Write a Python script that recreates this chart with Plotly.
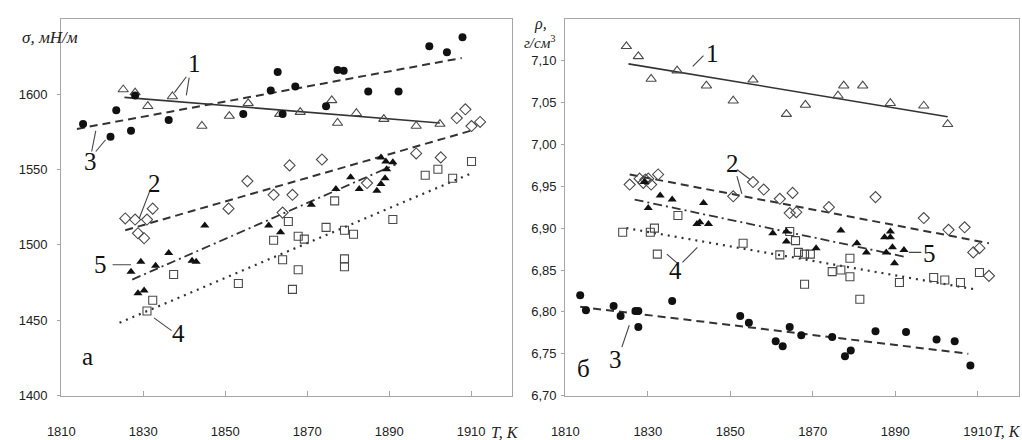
import plotly.graph_objects as go

# ---------------- Data: surface tension sigma (left panel, "а") ----------------
s1_T = [1825.1, 1828.0, 1831.1, 1837.1, 1844.3, 1851.0, 1855.6, 1863.3, 1868.3, 1876.0, 1877.4, 1882.0, 1888.7, 1896.6, 1902.4]
s1_v = [1603.0, 1601.0, 1591.9, 1598.4, 1578.8, 1585.4, 1593.8, 1586.7, 1588.0, 1595.8, 1580.8, 1587.3, 1583.4, 1578.8, 1580.1]
s2_T = [1825.6, 1828.0, 1830.9, 1832.3, 1828.7, 1830.2, 1850.8, 1855.4, 1861.8, 1866.4, 1864.0, 1865.7, 1873.6, 1884.6, 1896.6, 1902.6, 1906.5, 1908.6, 1910.1, 1912.2]
s2_v = [1517.5, 1516.8, 1516.8, 1524.0, 1507.7, 1504.4, 1524.0, 1542.3, 1533.2, 1533.2, 1521.4, 1552.7, 1556.6, 1541.0, 1560.6, 1558.0, 1584.1, 1589.9, 1578.8, 1581.5]
s3_T = [1815.3, 1822.0, 1823.4, 1827.0, 1828.0, 1836.2, 1854.4, 1861.1, 1862.8, 1864.0, 1867.1, 1874.6, 1877.4, 1878.9, 1884.9, 1892.3, 1899.8, 1904.1, 1907.9]
s3_v = [1580.1, 1571.7, 1589.3, 1575.6, 1599.1, 1582.8, 1586.7, 1602.3, 1614.7, 1586.7, 1605.0, 1591.9, 1616.0, 1615.4, 1601.7, 1601.7, 1631.7, 1627.8, 1637.6]
s4_T = [1830.9, 1832.3, 1837.4, 1853.2, 1861.8, 1865.4, 1864.0, 1867.8, 1869.3, 1867.8, 1866.4, 1876.7, 1874.6, 1879.1, 1881.3, 1879.1, 1879.1, 1890.9, 1898.8, 1901.9, 1905.5, 1910.1]
s4_v = [1456.1, 1463.3, 1480.3, 1474.4, 1503.1, 1515.5, 1490.1, 1505.7, 1503.8, 1483.5, 1470.5, 1529.2, 1511.6, 1509.7, 1507.0, 1490.7, 1485.5, 1516.8, 1546.2, 1550.1, 1544.2, 1555.3]
s5_T = [1827.0, 1829.4, 1828.7, 1830.2, 1833.0, 1836.2, 1841.9, 1842.9, 1845.0, 1860.6, 1863.5, 1871.0, 1877.0, 1880.6, 1882.7, 1887.0, 1888.0, 1889.0, 1889.4, 1888.0, 1889.2, 1890.9]
s5_v = [1482.2, 1488.8, 1467.9, 1469.8, 1486.2, 1494.6, 1489.4, 1488.8, 1512.9, 1512.9, 1508.3, 1526.6, 1537.1, 1544.9, 1537.1, 1535.8, 1540.3, 1544.2, 1550.1, 1558.0, 1555.3, 1554.7]

# trend lines (end points)
s1_fit_T, s1_fit_v = [1825.4, 1902.4], [1597.8, 1580.8]
s2_fit_T, s2_fit_v = [1825.6, 1910.6], [1509.7, 1576.2]
s3_fit_T, s3_fit_v = [1813.8, 1907.7], [1576.9, 1623.9]
s4_fit_T, s4_fit_v = [1824.2, 1910.1], [1448.3, 1547.5]
s5_fit_T, s5_fit_v = [1827.3, 1891.6], [1477.0, 1553.4]

# ---------------- Data: density rho (right panel, "б") ----------------
r1_T = [1824.8, 1827.7, 1830.8, 1837.1, 1844.2, 1850.7, 1855.5, 1863.6, 1868.2, 1876.1, 1877.5, 1882.1, 1888.8, 1896.9, 1902.7]
r1_v = [7.117, 7.105, 7.078, 7.088, 7.070, 7.052, 7.077, 7.036, 7.047, 7.058, 7.070, 7.070, 7.049, 7.046, 7.024]
r2_T = [1825.6, 1828.0, 1828.9, 1829.4, 1830.1, 1830.8, 1832.5, 1850.7, 1855.5, 1858.1, 1862.0, 1865.1, 1864.4, 1866.0, 1873.9, 1885.2, 1896.9, 1902.9, 1906.8, 1908.9, 1910.4, 1912.7]
r2_v = [6.952, 6.959, 6.954, 6.958, 6.959, 6.952, 6.964, 6.938, 6.955, 6.946, 6.935, 6.942, 6.918, 6.919, 6.925, 6.937, 6.912, 6.898, 6.901, 6.871, 6.876, 6.843]
r3_T = [1813.6, 1815.0, 1821.7, 1823.4, 1827.0, 1827.7, 1827.7, 1835.9, 1852.4, 1854.5, 1861.0, 1862.7, 1864.4, 1867.2, 1874.7, 1877.8, 1879.2, 1885.2, 1892.6, 1900.0, 1904.4, 1908.2]
r3_v = [6.820, 6.802, 6.807, 6.795, 6.801, 6.801, 6.782, 6.813, 6.795, 6.787, 6.765, 6.759, 6.782, 6.772, 6.770, 6.747, 6.754, 6.777, 6.776, 6.767, 6.765, 6.736]
r4_T = [1823.9, 1830.6, 1831.6, 1832.3, 1837.3, 1853.1, 1862.0, 1864.4, 1865.8, 1866.5, 1868.0, 1869.4, 1868.0, 1879.0, 1874.7, 1876.8, 1879.0, 1881.4, 1891.0, 1899.3, 1902.0, 1905.8, 1910.4]
r4_v = [6.895, 6.895, 6.900, 6.869, 6.915, 6.882, 6.868, 6.896, 6.885, 6.871, 6.869, 6.869, 6.833, 6.864, 6.848, 6.850, 6.842, 6.815, 6.835, 6.841, 6.838, 6.835, 6.847]
r5_T = [1829.2, 1830.1, 1833.0, 1835.9, 1841.9, 1842.6, 1843.5, 1844.7, 1860.3, 1863.6, 1863.6, 1870.8, 1876.8, 1880.7, 1883.0, 1887.4, 1888.8, 1888.8, 1887.8, 1889.3, 1889.8, 1892.1]
r5_v = [6.955, 6.924, 6.939, 6.934, 6.905, 6.907, 6.930, 6.905, 6.894, 6.896, 6.884, 6.876, 6.897, 6.882, 6.871, 6.889, 6.896, 6.889, 6.871, 6.877, 6.858, 6.874]

r1_fit_T, r1_fit_v = [1825.3, 1902.7], [7.096, 7.033]
r2_fit_T, r2_fit_v = [1825.6, 1912.7], [6.964, 6.882]
r3_fit_T, r3_fit_v = [1813.6, 1907.7], [6.806, 6.750]
r4_fit_T, r4_fit_v = [1824.8, 1909.2], [6.900, 6.827]
r5_fit_T, r5_fit_v = [1826.8, 1892.1], [6.934, 6.866]

x_ticks = [1810, 1830, 1850, 1870, 1890, 1910]
sigma_ticks = [1400, 1450, 1500, 1550, 1600]
rho_ticks = [6.70, 6.75, 6.80, 6.85, 6.90, 6.95, 7.00, 7.05, 7.10]
rho_ticktext = ["6,70", "6,75", "6,80", "6,85", "6,90", "6,95", "7,00", "7,05", "7,10"]

# ---------------- Styles ----------------
MK_GRAY = "#4a4a4a"
markers = {
    1: dict(symbol="triangle-up-open", size=9, color=MK_GRAY, line=dict(width=1.1, color=MK_GRAY)),
    2: dict(symbol="diamond-open", size=8.5, color=MK_GRAY, line=dict(width=1.1, color=MK_GRAY)),
    3: dict(symbol="circle", size=8, color="#111111"),
    4: dict(symbol="square-open", size=8, color=MK_GRAY, line=dict(width=1.1, color=MK_GRAY)),
    5: dict(symbol="triangle-up", size=8, color="#111111"),
}
lines = {
    1: dict(color="#333333", width=1.6, dash="solid"),
    2: dict(color="#333333", width=2, dash="8px,5px"),
    3: dict(color="#333333", width=2, dash="8px,5px"),
    4: dict(color="#333333", width=2.2, dash="2px,5px"),
    5: dict(color="#333333", width=1.8, dash="9px,4px,2px,4px"),
}

fig = go.Figure()

left_pts = {1: (s1_T, s1_v), 2: (s2_T, s2_v), 3: (s3_T, s3_v), 4: (s4_T, s4_v), 5: (s5_T, s5_v)}
left_fit = {1: (s1_fit_T, s1_fit_v), 2: (s2_fit_T, s2_fit_v), 3: (s3_fit_T, s3_fit_v), 4: (s4_fit_T, s4_fit_v), 5: (s5_fit_T, s5_fit_v)}
right_pts = {1: (r1_T, r1_v), 2: (r2_T, r2_v), 3: (r3_T, r3_v), 4: (r4_T, r4_v), 5: (r5_T, r5_v)}
right_fit = {1: (r1_fit_T, r1_fit_v), 2: (r2_fit_T, r2_fit_v), 3: (r3_fit_T, r3_fit_v), 4: (r4_fit_T, r4_fit_v), 5: (r5_fit_T, r5_fit_v)}

for pts, fits, xa, ya in [(left_pts, left_fit, "x", "y"), (right_pts, right_fit, "x2", "y2")]:
    for k in [4, 2, 5, 1, 3]:
        fx, fy = fits[k]
        fig.add_trace(go.Scatter(x=fx, y=fy, mode="lines", line=lines[k], xaxis=xa, yaxis=ya,
                                 showlegend=False, hoverinfo="skip"))
    for k in [4, 2, 5, 1, 3]:
        px_, py_ = pts[k]
        fig.add_trace(go.Scatter(x=px_, y=py_, mode="markers", marker=markers[k], xaxis=xa, yaxis=ya,
                                 showlegend=False, name=str(k)))

AX_COL = "#a6a6a6"
tick_font = dict(family="Liberation Sans, Arial, sans-serif", size=13, color="#222222")
common_x = dict(range=[1810, 1920], tickvals=x_ticks, showgrid=False, zeroline=False,
                showline=True, linecolor=AX_COL, linewidth=1.3, mirror=True,
                ticks="inside", ticklen=5, tickcolor=AX_COL, tickfont=tick_font,
                ticklabelstandoff=24)
common_y = dict(showgrid=False, zeroline=False, showline=True, linecolor=AX_COL, linewidth=1.3,
                mirror=True, ticks="outside", ticklen=3, tickcolor=AX_COL, tickfont=tick_font)

fig.update_layout(
    width=1022, height=440,
    margin=dict(l=0, r=0, t=0, b=0),
    paper_bgcolor="white", plot_bgcolor="white",
    xaxis=dict(domain=[48 / 1022, 505 / 1022], anchor="y", **common_x),
    yaxis=dict(domain=[1 - 403 / 440, 1 - 19 / 440], anchor="x", range=[1400, 1650],
               tickvals=sigma_ticks, ticklabelstandoff=7, **common_y),
    xaxis2=dict(domain=[559 / 1022, 1019 / 1022], anchor="y2", **common_x),
    yaxis2=dict(domain=[1 - 403 / 440, 1 - 19 / 440], anchor="x2", range=[6.70, 7.15],
                tickvals=rho_ticks, ticktext=rho_ticktext, ticklabelstandoff=2, **common_y),
)

SERIF = "Liberation Serif, Times New Roman, serif"
lbl_font = dict(family=SERIF, size=25, color="#111111")

def label(text, x, y, xref, yref):
    fig.add_annotation(text=text, x=x, y=y, xref=xref, yref=yref, showarrow=False,
                       font=lbl_font, xanchor="center", yanchor="middle")

def leader(x0, y0, x1, y1, xref, yref):
    fig.add_shape(type="line", x0=x0, y0=y0, x1=x1, y1=y1, xref=xref, yref=yref,
                  line=dict(color="#444444", width=1.1))

# left panel labels
label("1", 1842.6, 1620.2, "x", "y")
leader(1840.5, 1611.5, 1837.6, 1601.0, "x", "y")
leader(1841.2, 1610.9, 1840.5, 1599.1, "x", "y")
label("3", 1817.0, 1555.3, "x", "y")
leader(1817.4, 1561.9, 1818.4, 1575.6, "x", "y")
leader(1818.4, 1561.9, 1820.8, 1569.7, "x", "y")
label("2", 1832.8, 1541.0, "x", "y")
leader(1831.6, 1535.8, 1829.0, 1517.5, "x", "y")
label("5", 1819.6, 1486.8, "x", "y")
leader(1822.5, 1486.8, 1827.0, 1486.8, "x", "y")
label("4", 1838.6, 1441.1, "x", "y")
leader(1832.6, 1451.6, 1836.9, 1443.1, "x", "y")
label("а", 1816.5, 1426.1, "x", "y")

# right panel labels
label("1", 1845.7, 7.108, "x2", "y2")
leader(1840.9, 7.093, 1843.5, 7.106, "x2", "y2")
label("2", 1850.5, 6.977, "x2", "y2")
leader(1851.6, 6.970, 1854.8, 6.958, "x2", "y2")
leader(1851.6, 6.962, 1852.8, 6.941, "x2", "y2")
label("4", 1836.8, 6.849, "x2", "y2")
leader(1834.6, 6.869, 1837.4, 6.857, "x2", "y2")
leader(1838.4, 6.859, 1842.0, 6.877, "x2", "y2")
label("3", 1822.2, 6.743, "x2", "y2")
leader(1823.7, 6.758, 1825.5, 6.784, "x2", "y2")
label("б", 1814.5, 6.733, "x2", "y2")
label("5", 1898.2, 6.870, "x2", "y2")
leader(1893.3, 6.871, 1896.3, 6.871, "x2", "y2")

# axis titles (italic)
def title(text, x, y, size=17, yshift=0):
    fig.add_annotation(text=text, x=x, y=y, xref="paper", yref="paper", showarrow=False,
                       font=dict(family=SERIF, size=size, color="#222222"),
                       xanchor="center", yanchor="middle", borderpad=0, yshift=yshift)

title("<i>σ, мН/м</i>", 36 / 1022, 1 - 38 / 440)
title("<i>T, K</i>", 498 / 1022, 1 - 431 / 440, size=16, yshift=-9)
title("<i>ρ,</i>", 534 / 1022, 1 - 24 / 440, size=16)
title("<i>г/см</i><sup>3</sup>", 533 / 1022, 1 - 43 / 440, size=15)
title("<i>T, K</i>", 1007 / 1022, 1 - 430 / 440, size=16, yshift=-9)

fig.write_html("out.html")
